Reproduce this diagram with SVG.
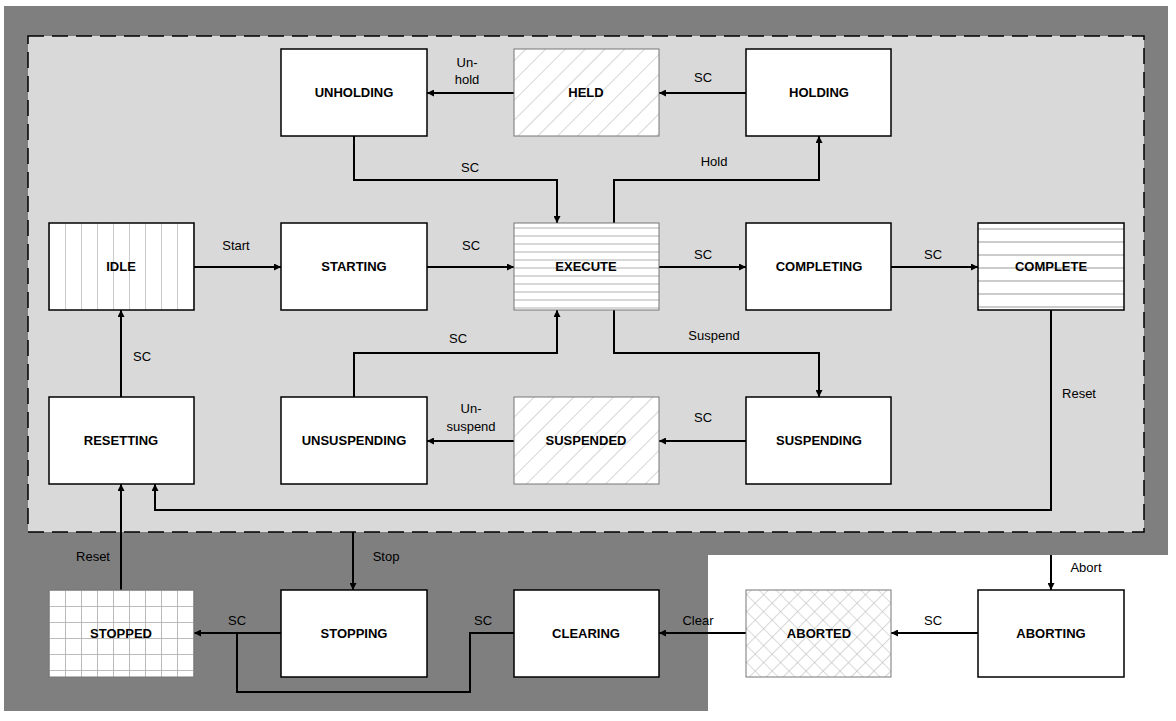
<svg xmlns="http://www.w3.org/2000/svg" width="1176" height="721" viewBox="0 0 1176 721">
<style>
.n{stroke:#000;stroke-width:1.5}
.t{font-family:"Liberation Sans",Arial,sans-serif;font-size:13px;font-weight:bold;text-anchor:middle;fill:#000}
.l{font-family:"Liberation Sans",Arial,sans-serif;font-size:13px;text-anchor:middle;fill:#000}
.c{fill:none;stroke:#000;stroke-width:2;marker-end:url(#a)}
</style>
<defs>
<marker id="a" viewBox="0 0 10 10" refX="10" refY="5" markerWidth="7" markerHeight="7" markerUnits="userSpaceOnUse" orient="auto"><path d="M0,0L10,5L0,10z" fill="#000"/></marker>
<marker id="a2" viewBox="0 0 10 10" refX="10" refY="5" markerWidth="8" markerHeight="8" orient="auto" markerUnits="userSpaceOnUse"><path d="M0,0L10,5L0,10z"/></marker>
<pattern id="pv" width="16" height="10" patternUnits="userSpaceOnUse" x="49"><rect width="16" height="10" fill="#fff"/><line x1="0" y1="0" x2="0" y2="10" stroke="#bbb" stroke-width="1.5"/></pattern>
<pattern id="ph" width="10" height="8" patternUnits="userSpaceOnUse"><rect width="10" height="8" fill="#fff"/><line x1="0" y1="4" x2="10" y2="4" stroke="#ccc" stroke-width="1.5"/></pattern>
<pattern id="ph2" width="10" height="13" patternUnits="userSpaceOnUse" y="223"><rect width="10" height="13" fill="#fff"/><line x1="0" y1="6" x2="10" y2="6" stroke="#bbb" stroke-width="1.5"/></pattern>
<pattern id="pd" width="14" height="14" patternUnits="userSpaceOnUse" patternTransform="rotate(45)"><rect width="14" height="14" fill="#fff"/><line x1="0" y1="0" x2="0" y2="14" stroke="#bbb" stroke-width="1.2"/></pattern>
<pattern id="pg" width="16" height="16" patternUnits="userSpaceOnUse" x="49" y="590"><rect width="16" height="16" fill="#fff"/><path d="M0,0V16M0,0H16" stroke="#bbb" stroke-width="2"/></pattern>
<pattern id="px" width="12" height="12" patternUnits="userSpaceOnUse" patternTransform="rotate(45)"><rect width="12" height="12" fill="#fff"/><path d="M0,0V12M0,0H12" stroke="#bbb" stroke-width="1.2"/></pattern>
</defs>
<rect width="1176" height="721" fill="#fff"/>
<path d="M4,6H1168V555H708V711H4Z" fill="#7f7f7f"/>
<rect x="28" y="36" width="1116" height="496" fill="#d9d9d9" stroke="#000" stroke-width="1.5" stroke-dasharray="16,8"/>
<g id="connectors">
<path class="c" d="M746,93H659"/>
<path class="c" d="M514,93H427"/>
<path class="c" d="M354,136V180H557V223"/>
<path class="c" d="M614,223V180H819V136"/>
<path class="c" d="M194,267H281"/>
<path class="c" d="M427,267H514"/>
<path class="c" d="M659,267H746"/>
<path class="c" d="M891,267H978"/>
<path class="c" d="M614,310V353H819V397"/>
<path class="c" d="M746,441H659"/>
<path class="c" d="M514,441H427"/>
<path class="c" d="M354,397V353H557V310"/>
<path class="c" d="M121,397V310"/>
<path class="c" d="M1051,310V510H155V484"/>
<path class="c" d="M121,590V484"/>
<path class="c" d="M353,532V590"/>
<path class="c" d="M1051,555V590"/>
<path class="c" d="M978,633H891"/>
<path class="c" d="M746,633H659"/>
<path class="c" d="M281,633H194"/>
<path fill="none" stroke="#000" stroke-width="2" d="M514,633H470V692H237V633"/>
<text class="l" x="703" y="82">SC</text>
<text class="l" x="467" y="67">Un-</text><text class="l" x="467" y="84">hold</text>
<text class="l" x="470" y="172">SC</text>
<text class="l" x="714" y="166">Hold</text>
<text class="l" x="236" y="250">Start</text>
<text class="l" x="471" y="250">SC</text>
<text class="l" x="703" y="259">SC</text>
<text class="l" x="933" y="259">SC</text>
<text class="l" x="714" y="340">Suspend</text>
<text class="l" x="703" y="422">SC</text>
<text class="l" x="471" y="413">Un-</text><text class="l" x="471" y="431">suspend</text>
<text class="l" x="458" y="343">SC</text>
<text class="l" x="142" y="361">SC</text>
<text class="l" x="1079" y="398">Reset</text>
<text class="l" x="93" y="561">Reset</text>
<text class="l" x="386" y="561">Stop</text>
<text class="l" x="1086" y="572">Abort</text>
<text class="l" x="933" y="625">SC</text>
<text class="l" x="698" y="625">Clear</text>
<text class="l" x="483" y="625">SC</text>
<text class="l" x="237" y="625">SC</text>
</g>
<g id="UNHOLDING"><rect class="n" x="281" y="49" width="146" height="87" fill="#fff"/><text class="t" x="354" y="97">UNHOLDING</text></g>
<g id="HELD"><rect class="n" x="514" y="49" width="145" height="87" fill="url(#pd)" stroke="#888" style="stroke:#777;stroke-width:1"/><text class="t" x="586" y="97">HELD</text></g>
<g id="HOLDING"><rect class="n" x="746" y="49" width="145" height="87" fill="#fff"/><text class="t" x="819" y="97">HOLDING</text></g>
<g id="IDLE"><rect class="n" x="49" y="223" width="145" height="87" fill="url(#pv)"/><text class="t" x="121" y="271">IDLE</text></g>
<g id="STARTING"><rect class="n" x="281" y="223" width="146" height="87" fill="#fff"/><text class="t" x="354" y="271">STARTING</text></g>
<g id="EXECUTE"><rect class="n" x="514" y="223" width="145" height="87" fill="url(#ph)" style="stroke:#777;stroke-width:1"/><text class="t" x="586" y="271">EXECUTE</text></g>
<g id="COMPLETING"><rect class="n" x="746" y="223" width="145" height="87" fill="#fff"/><text class="t" x="819" y="271">COMPLETING</text></g>
<g id="COMPLETE"><rect class="n" x="978" y="223" width="146" height="87" fill="url(#ph2)"/><text class="t" x="1051" y="271">COMPLETE</text></g>
<g id="RESETTING"><rect class="n" x="49" y="397" width="145" height="87" fill="#fff"/><text class="t" x="121" y="445">RESETTING</text></g>
<g id="UNSUSPENDING"><rect class="n" x="281" y="397" width="146" height="87" fill="#fff"/><text class="t" x="354" y="445">UNSUSPENDING</text></g>
<g id="SUSPENDED"><rect class="n" x="514" y="397" width="145" height="87" fill="url(#pd)" style="stroke:#777;stroke-width:1"/><text class="t" x="586" y="445">SUSPENDED</text></g>
<g id="SUSPENDING"><rect class="n" x="746" y="397" width="145" height="87" fill="#fff"/><text class="t" x="819" y="445">SUSPENDING</text></g>
<g id="STOPPED"><rect class="n" x="49" y="590" width="145" height="87" fill="url(#pg)" style="stroke:#777;stroke-width:1"/><text class="t" x="121" y="638">STOPPED</text></g>
<g id="STOPPING"><rect class="n" x="281" y="590" width="146" height="87" fill="#fff"/><text class="t" x="354" y="638">STOPPING</text></g>
<g id="CLEARING"><rect class="n" x="514" y="590" width="145" height="87" fill="#fff"/><text class="t" x="586" y="638">CLEARING</text></g>
<g id="ABORTED"><rect class="n" x="746" y="590" width="145" height="87" fill="url(#px)" style="stroke:#777;stroke-width:1"/><text class="t" x="819" y="638">ABORTED</text></g>
<g id="ABORTING"><rect class="n" x="978" y="590" width="146" height="87" fill="#fff"/><text class="t" x="1051" y="638">ABORTING</text></g>
</svg>
